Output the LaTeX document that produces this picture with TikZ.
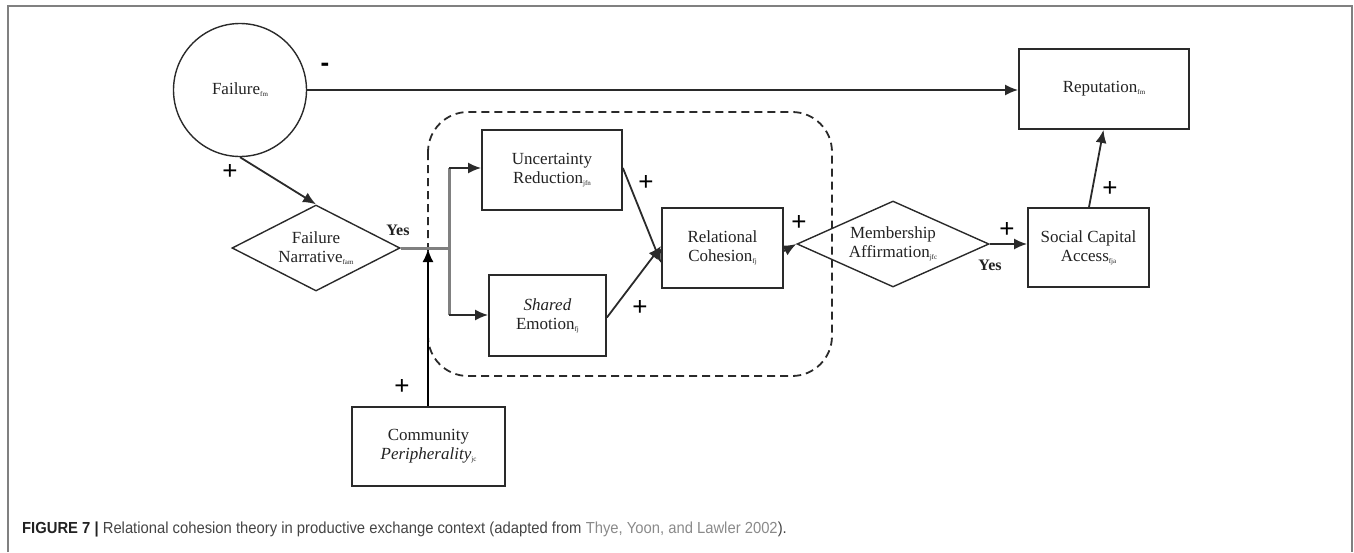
\documentclass[tikz,border=0pt]{standalone}
\usepackage{fontspec}
\setmainfont{Liberation Serif}
\newfontfamily\capfont[FakeStretch=0.925]{Liberation Sans}
\newfontfamily\plusfont{Liberation Sans}
\usetikzlibrary{shapes.geometric,arrows.meta}
\definecolor{ln}{HTML}{2A2A2A}
\definecolor{lg}{HTML}{808080}
\definecolor{tx}{HTML}{222222}
\tikzset{
  box/.style={draw=ln,line width=1.8pt,rectangle,inner sep=2pt,align=center,text=tx,font=\fontsize{17}{19}\selectfont},
  dia/.style={draw=ln,line width=1.4pt,diamond,aspect=2,inner sep=0pt,align=center,text=tx,font=\fontsize{17}{19}\selectfont},
  conn/.style={draw=ln,line width=1.8pt,-{Latex[length=13pt,width=11pt]}},
  gconn/.style={draw=lg,line width=3pt},
  lab/.style={text=black,font=\plusfont\fontsize{26}{26}\selectfont,inner sep=0pt},
  yes/.style={text=tx,font=\bfseries\fontsize{16}{16}\selectfont,inner sep=0pt},
}
\newcommand{\sbs}[1]{\raisebox{-2pt}{\fontsize{7}{7}\selectfont #1}}
\begin{document}
\begin{tikzpicture}[x=1pt,y=-1pt]
\useasboundingbox (0,0) rectangle (1354,552);
% frame
\draw[lg,line width=1.5pt] (8,552) -- (8,6) -- (1352,6) -- (1352,552);
% dashed group
\draw[ln,line width=1.8pt,dash pattern=on 8pt off 5pt,rounded corners=40pt] (428,112) rectangle (832,376);
% nodes
\node[draw=ln,line width=1.4pt,circle,minimum size=133pt,inner sep=0pt,text=tx,font=\fontsize{17}{19}\selectfont] (fail) at (240,90) {Failure\sbs{fm}};
\node[box,minimum width=170pt,minimum height=80pt] (rep) at (1104,89) {Reputation\sbs{fm}};
\node[dia,minimum width=168pt,minimum height=86pt] (fnar) at (316,248) {Failure\\Narrative\sbs{fam}};
\node[box,minimum width=140pt,minimum height=80pt] (unc) at (552,170) {Uncertainty\\Reduction\sbs{jfn}};
\node[box,minimum width=117pt,minimum height=81pt] (shr) at (547.5,315.5) {\textit{Shared}\\Emotion\sbs{fj}};
\node[box,minimum width=121pt,minimum height=80pt] (rel) at (722.5,248) {Relational\\Cohesion\sbs{fj}};
\node[dia,minimum width=192pt,minimum height=86pt] (mem) at (893,244) {Membership\\Affirmation\sbs{jfc}};
\node[box,minimum width=121pt,minimum height=79pt] (soc) at (1088.5,247.5) {Social Capital\\Access\sbs{fja}};
\node[box,minimum width=153pt,minimum height=79pt] (com) at (428.5,446.5) {Community\\\textit{Peripherality}\sbs{jc}};
% connectors
\draw[conn] (fail.east) -- (rep.west |- fail.east);
\draw[conn] (fail.south) -- (fnar.north);
\coordinate (jn) at (449,248);
\coordinate (jt) at (449,168);
\coordinate (jb) at (449,315);
\draw[gconn] (fnar.east) -- (jn);
\draw[gconn] (jt) -- (jb);
\draw[conn] (jt) -- (unc.west |- jt);
\draw[conn] (jb) -- (shr.west |- jb);
\coordinate (ct) at (428,249);
\draw[conn,draw=black] (com.north -| ct) -- (ct);
\draw[conn] (unc.east |- jt) -- ([yshift=-15pt]rel.west);
\draw[conn] ([yshift=-2pt]shr.east) -- ([yshift=2pt]rel.west);
\draw[conn] ([yshift=-3pt]rel.east) -- (mem.west);
\draw[conn] (mem.east) -- (soc.west |- mem.east);
\draw[conn] ([xshift=0.5pt]soc.north) -- ([xshift=-0.5pt]rep.south);
% labels
\node[lab,font=\plusfont\bfseries\fontsize{26}{26}\selectfont] (mneg) at (325,67) {-};
\node[lab] (p1) at (230,172) {+};
\node[yes] (y1) at (398,230) {Yes};
\node[lab] (p2) at (646,183) {+};
\node[lab] (p3) at (640,308) {+};
\node[lab] (p4) at (799,223) {+};
\node[lab] (p5) at (1007,230) {+};
\node[lab] (p6) at (1110,189) {+};
\node[lab] (p7) at (402,387) {+};
\node[yes] (y2) at (990,265) {Yes};
% caption
\node[anchor=base west,inner sep=0pt,font=\capfont\fontsize{16}{16}\selectfont] (cap) at (22,533)
 {\textcolor[HTML]{222222}{\bfseries FIGURE 7 |} \textcolor[HTML]{444444}{Relational cohesion theory in productive exchange context (adapted from} \textcolor[HTML]{8A8A8A}{Thye, Yoon, and Lawler 2002}\textcolor[HTML]{444444}{).}};
\end{tikzpicture}
\end{document}
